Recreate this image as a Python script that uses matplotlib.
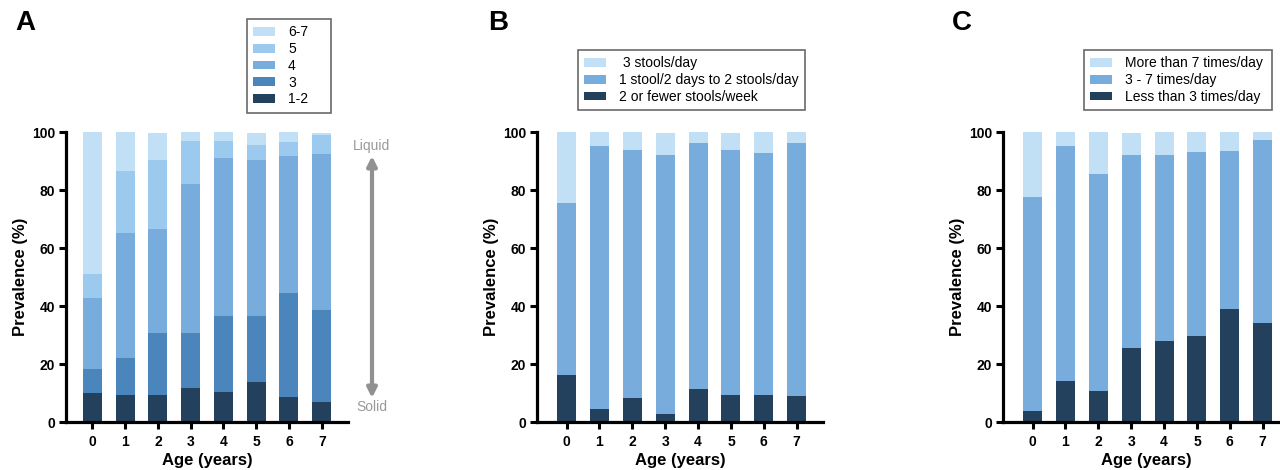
import numpy as np
import matplotlib
matplotlib.use("Agg")
import matplotlib.pyplot as plt

plt.rcParams['font.family'] = ['Liberation Sans', 'DejaVu Sans']

ages = [0, 1, 2, 3, 4, 5, 6, 7]

# Panel A: stool consistency score (segment heights, %)
a_labels = ["1-2", "3", "4", "5", "6-7"]
a_12 = [10.0, 9.3, 9.3, 11.8, 10.5, 13.9, 8.7, 7.0]
a_3 = [8.4, 12.9, 21.5, 19.0, 26.2, 22.8, 35.9, 31.7]
a_4 = [24.5, 43.1, 35.9, 51.4, 54.4, 53.8, 47.2, 53.8]
a_5 = [8.2, 21.4, 23.8, 14.8, 5.9, 5.1, 4.9, 6.6]
a_67 = [48.9, 13.3, 9.2, 3.0, 3.0, 4.1, 3.3, 0.6]

# Panel B: stool frequency
b_labels = ["2 or fewer stools/week", "1 stool/2 days to 2 stools/day", " 3 stools/day"]
b_low = [16.3, 4.6, 8.4, 2.9, 11.5, 9.4, 9.4, 9.1]
b_mid = [59.3, 90.7, 85.5, 89.3, 84.8, 84.5, 83.5, 87.2]
b_high = [24.4, 4.7, 6.1, 7.5, 3.7, 5.8, 7.1, 3.7]

# Panel C: urination frequency
c_labels = ["Less than 3 times/day", "3 - 7 times/day", "More than 7 times/day"]
c_low = [3.9, 14.3, 10.8, 25.6, 28.0, 29.8, 39.1, 34.3]
c_mid = [73.8, 81.0, 74.8, 66.6, 64.2, 63.4, 54.5, 63.1]
c_high = [22.3, 4.7, 14.4, 7.5, 7.8, 6.8, 6.4, 2.6]

col_dark = "#23415c"
col_3 = "#4a85bb"
col_mid = "#77acdc"
col_5 = "#9bcaee"
col_light = "#c2e0f5"

W, H = 1280, 470
fig = plt.figure(figsize=(W / 100, H / 100), dpi=100)


def make_ax(left_px, right_px, xlim):
    ax = fig.add_axes([left_px / W, 1 - 422 / H, (right_px - left_px) / W, 290 / H])
    ax.set_xlim(*xlim)
    ax.set_ylim(0, 100)
    for s in ["top", "right"]:
        ax.spines[s].set_visible(False)
    for s in ["left", "bottom"]:
        ax.spines[s].set_linewidth(2.3)
    ax.set_xticks(ages)
    ax.set_yticks([0, 20, 40, 60, 80, 100])
    ax.tick_params(direction="out", length=5, width=2.2, labelsize=10, pad=3)
    ax.tick_params(axis="x", pad=4.5)
    for lab in ax.get_xticklabels() + ax.get_yticklabels():
        lab.set_fontweight("bold")
    ax.set_ylabel("Prevalence (%)", fontsize=12, fontweight="bold", labelpad=2.5)
    ax.set_xlabel("Age (years)", fontsize=12, fontweight="bold", labelpad=3)
    return ax


def stack(ax, series, colors, labels):
    bottom = np.zeros(len(ages))
    handles = []
    for vals, c, lab in zip(series, colors, labels):
        h = ax.bar(ages, vals, bottom=bottom, width=0.58, color=c, label=lab, linewidth=0)
        handles.append(h)
        bottom = bottom + np.array(vals)
    return handles


def add_legend(ax, handles, labels, x_px, y_px, w_px):
    leg = ax.legend(handles[::-1], labels[::-1], loc="upper left", mode="expand",
                    bbox_to_anchor=(x_px / W, 1 - (y_px + 60) / H, w_px / W, 60 / H),
                    bbox_transform=fig.transFigure,
                    borderaxespad=0, fancybox=False, frameon=True, fontsize=10,
                    handlelength=1.6, handleheight=0.6, handletextpad=0.9,
                    labelspacing=0.2, borderpad=0.45)
    leg.get_frame().set_edgecolor("#444444")
    leg.get_frame().set_linewidth(1.2)


# Panel A
axA = make_ax(66, 348, (-0.8, 7.8))
hA = stack(axA, [a_12, a_3, a_4, a_5, a_67],
           [col_dark, col_3, col_mid, col_5, col_light], a_labels)
add_legend(axA, hA, a_labels, 247, 19, 84)
fig.text(372 / W, 1 - 146 / H, "Liquid", color="#999999", fontsize=10, ha="center", va="center")
fig.text(372 / W, 1 - 407 / H, "Solid", color="#999999", fontsize=10, ha="center", va="center")
axA.annotate("", xy=(372 / W, 1 - 156 / H), xytext=(372 / W, 1 - 398 / H),
             xycoords="figure fraction", textcoords="figure fraction", annotation_clip=False,
             arrowprops=dict(arrowstyle="<|-|>", color="#919191", lw=3, mutation_scale=14,
                             shrinkA=0, shrinkB=0))

# Panel B
axB = make_ax(537, 823, (-0.9, 7.8))
hB = stack(axB, [b_low, b_mid, b_high], [col_dark, col_mid, col_light], b_labels)
add_legend(axB, hB, b_labels, 578, 50, 227)

# Panel C
axC = make_ax(1003, 1289, (-0.9, 7.8))
hC = stack(axC, [c_low, c_mid, c_high], [col_dark, col_mid, col_light], c_labels)
add_legend(axC, hC, c_labels, 1084, 50, 188)

for x, letter in [(25, "A"), (498, "B"), (962, "C")]:
    fig.text(x / W, 1 - 23 / H, letter, fontsize=20, fontweight="bold", ha="center", va="center")

fig.savefig("out.png", dpi=100)
